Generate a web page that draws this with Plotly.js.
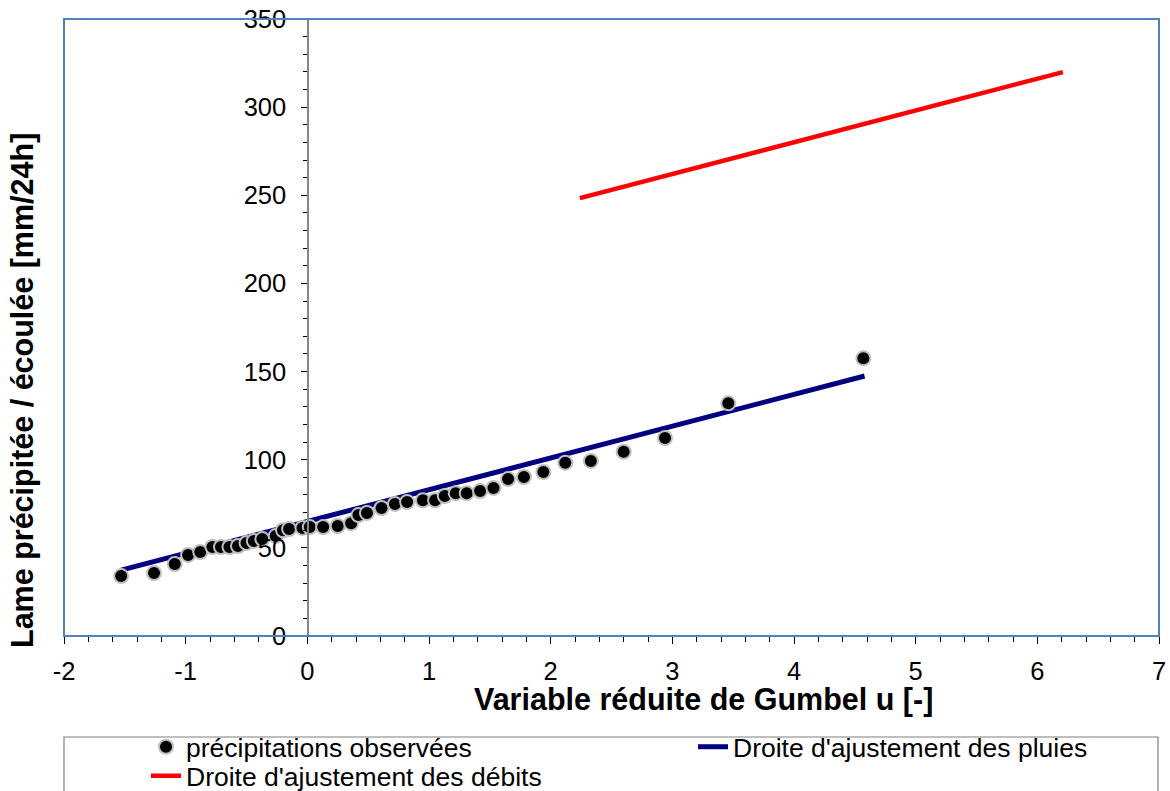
<!DOCTYPE html>
<html>
<head>
<meta charset="utf-8">
<script src="https://cdn.plot.ly/plotly-3.0.1.min.js"></script>
<style>html,body{margin:0;padding:0;background:#fff;}#chart{width:1170px;height:791px;}</style>
</head>
<body>
<div id="chart"></div>
<script>
// Observed precipitation vs Gumbel reduced variable
const gumbelU = [-1.53,-1.26,-1.09,-0.98,-0.88,-0.78,-0.71,-0.64,-0.57,-0.50,-0.44,-0.37,-0.26,-0.20,-0.15,-0.04,0.02,0.13,0.25,0.36,0.42,0.49,0.61,0.72,0.82,0.95,1.05,1.13,1.22,1.31,1.42,1.53,1.65,1.78,1.94,2.12,2.33,2.60,2.94,3.46,4.57];
const precipObs = [34.0,35.7,40.8,46.0,47.6,50.5,50.5,50.5,51.0,52.8,53.9,55.0,56.7,60.0,60.7,61.3,61.8,61.8,62.4,64.0,68.6,69.8,72.6,74.9,76.0,77.0,77.0,79.4,81.0,81.0,82.2,84.0,89.0,90.2,93.0,98.3,99.3,104.5,112.3,132.0,157.5];
// Fitted line for rainfall
const pluiesU = [-1.53, 4.58];
const pluiesP = [37.4, 147.5];
// Fitted line for discharges
const debitsU = [2.24, 6.21];
const debitsP = [248.4, 319.9];
// Axis ticks
const xTicks = [-2,-1,0,1,2,3,4,5,6,7];
const yTicks = [0,50,100,150,200,250,300,350];

const names = ["précipitations observées", "Droite d'ajustement des pluies", "Droite d'ajustement des débits"];
const FONT = "Arial, 'Liberation Sans', sans-serif";

const traces = [
  {x: pluiesU, y: pluiesP, mode: 'lines', name: names[1], legend: 'legend2',
   line: {color: '#000080', width: 5}},
  {x: debitsU, y: debitsP, mode: 'lines', name: names[2], legend: 'legend3',
   line: {color: '#FF0000', width: 4.5}},
  {x: gumbelU, y: precipObs, mode: 'markers', name: names[0], legend: 'legend',
   marker: {color: '#000000', size: 14, line: {color: '#BEBEBE', width: 2}}}
];

const L = 64, T = 19, R = 1159, B = 636;
const W = R - L, H = B - T;
const px = v => (v - L) / W;
const py = v => (B - v) / H;

const legFont = {family: FONT, size: 26.5, color: '#000'};
const legBase = {orientation: 'v', xanchor: 'left', yanchor: 'top', bgcolor: 'rgba(0,0,0,0)', borderwidth: 0, font: legFont};

const layout = {
  width: 1170, height: 791,
  margin: {l: L, r: 1170 - R, t: T, b: 791 - B, pad: 0, autoexpand: false},
  paper_bgcolor: '#fff', plot_bgcolor: '#fff',
  font: {family: FONT, color: '#000'},
  showlegend: true,
  xaxis: {
    range: [-2, 7], tickvals: xTicks, ticktext: xTicks.map(String),
    showgrid: false, zeroline: false, showline: false, automargin: false,
    ticks: 'outside', ticklen: 7, tickwidth: 1, tickcolor: '#000',
    minor: {dtick: 0.2, tick0: 0, ticks: 'outside', ticklen: 5, tickwidth: 1, tickcolor: '#000', showgrid: false},
    tickfont: {family: FONT, size: 25.5, color: '#000'},
    ticklabelstandoff: 5
  },
  yaxis: {
    range: [0, 350], tickvals: yTicks, ticktext: yTicks.map(String),
    anchor: 'free', position: 2 / 9, automargin: false,
    showgrid: false, zeroline: false, showline: true, linecolor: '#868686', linewidth: 1.5,
    ticks: 'outside', ticklen: 6, tickwidth: 1, tickcolor: '#000',
    minor: {dtick: 10, tick0: 0, ticks: 'outside', ticklen: 4, tickwidth: 1, tickcolor: '#000', showgrid: false},
    tickfont: {family: FONT, size: 25.5, color: '#000'},
    ticklabelstandoff: 10
  },
  legend: Object.assign({}, legBase, {x: px(146), y: py(723)}),
  legend2: Object.assign({}, legBase, {x: px(693), y: py(723)}),
  legend3: Object.assign({}, legBase, {x: px(146), y: py(752)}),
  shapes: [
    {type: 'rect', xref: 'paper', yref: 'paper', x0: 0, x1: 1, y0: 0, y1: 1,
     line: {color: '#4F81BD', width: 2}, fillcolor: 'rgba(0,0,0,0)', layer: 'above'},
    {type: 'rect', xref: 'paper', yref: 'paper', x0: 0, x1: px(1158), y0: py(737), y1: py(810),
     line: {color: '#7F7F7F', width: 1.2}, fillcolor: 'rgba(0,0,0,0)', layer: 'below'}
  ],
  annotations: [
    {text: '<b>Variable réduite de Gumbel u [-]</b>', xref: 'paper', yref: 'paper',
     x: px(703), y: py(699), xanchor: 'center', yanchor: 'middle', showarrow: false,
     font: {family: FONT, size: 30.5, color: '#000'}},
    {text: '<b>Lame précipitée / écoulée [mm/24h]</b>', xref: 'paper', yref: 'paper',
     x: px(23), y: py(391), xanchor: 'center', yanchor: 'middle', showarrow: false, textangle: -90,
     font: {family: FONT, size: 30.5, color: '#000'}}
  ]
};

Plotly.newPlot('chart', traces, layout, {displayModeBar: false, staticPlot: true});
</script>
</body>
</html>
